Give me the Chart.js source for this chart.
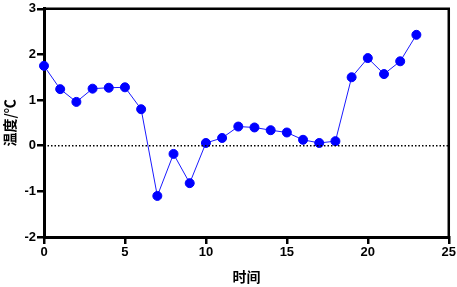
<!DOCTYPE html>
<html>
<head>
<meta charset="utf-8">
<script src="https://cdn.jsdelivr.net/npm/chart.js@4"></script>
<style>
  html, body { margin: 0; padding: 0; background: #fff; }
  #wrap { width: 457px; height: 287px; }
</style>
</head>
<body>
<div id="wrap"><canvas id="chart" width="457" height="287"></canvas></div>
<script>
// data
const hours = [0, 1, 2, 3, 4, 5, 6, 7, 8, 9, 10, 11, 12, 13, 14, 15, 16, 17, 18, 19, 20, 21, 22, 23];
const temps = [1.75, 1.24, 0.96, 1.25, 1.27, 1.28, 0.80, -1.10, -0.18, -0.82, 0.06, 0.17,
               0.42, 0.40, 0.34, 0.29, 0.13, 0.06, 0.10, 1.50, 1.92, 1.57, 1.85, 2.43];
const zeroLineX = [0, 25];
const xTitle = '时间';
const yTitle = '温度/℃';

const points = hours.map((h, i) => ({ x: h, y: temps[i] }));
const zeroLine = zeroLineX.map(x => ({ x: x, y: 0 }));

// top and right frame lines
const frame = {
  id: 'frame',
  afterDraw(chart) {
    const a = chart.chartArea;
    const ctx = chart.ctx;
    ctx.save();
    ctx.strokeStyle = '#000';
    ctx.lineWidth = 2.5;
    ctx.beginPath();
    ctx.moveTo(a.left, a.top);
    ctx.lineTo(a.right, a.top);
    ctx.lineTo(a.right, a.bottom);
    ctx.stroke();
    ctx.restore();
  }
};

const tickFont = { family: '"Liberation Sans", Arial, sans-serif', size: 13, weight: 'bold' };
const titleFont = { family: '"Noto Sans CJK SC", sans-serif', size: 14, weight: 'bold' };

new Chart(document.getElementById('chart').getContext('2d'), {
  type: 'scatter',
  data: {
    datasets: [
      {
        data: zeroLine,
        showLine: true,
        borderColor: '#000',
        borderWidth: 1.5,
        borderDash: [1.5, 2],
        pointRadius: 0,
        clip: false
      },
      {
        data: points,
        showLine: true,
        borderColor: '#1a1aff',
        borderWidth: 1,
        backgroundColor: '#0000ff',
        pointBackgroundColor: '#0000ff',
        pointBorderColor: '#0000ff',
        pointRadius: 4.5,
        clip: false
      }
    ]
  },
  options: {
    responsive: false,
    animation: false,
    layout: { padding: { top: 6, right: 8, left: 0, bottom: 0 } },
    plugins: {
      legend: { display: false },
      tooltip: { enabled: false }
    },
    scales: {
      x: {
        type: 'linear',
        min: 0,
        max: 25,
        ticks: { stepSize: 5, color: '#000', font: tickFont, padding: 1 },
        grid: { drawOnChartArea: false, color: '#000', lineWidth: 2.5, tickLength: 7 },
        border: { color: '#000', width: 3 },
        title: { display: true, text: xTitle, color: '#000', font: titleFont, padding: { top: 0, bottom: 2 } },
        afterFit(scale) { scale.height = 50; }
      },
      y: {
        min: -2,
        max: 3,
        ticks: { stepSize: 1, color: '#000', font: tickFont, padding: 1 },
        grid: { drawOnChartArea: false, color: '#000', lineWidth: 2.5, tickLength: 7 },
        border: { color: '#000', width: 3 },
        title: { display: true, text: yTitle, color: '#000', font: titleFont, padding: { top: 1, bottom: 0 } },
        afterFit(scale) { scale.width = 44; }
      }
    }
  },
  plugins: [frame]
});
</script>
</body>
</html>
